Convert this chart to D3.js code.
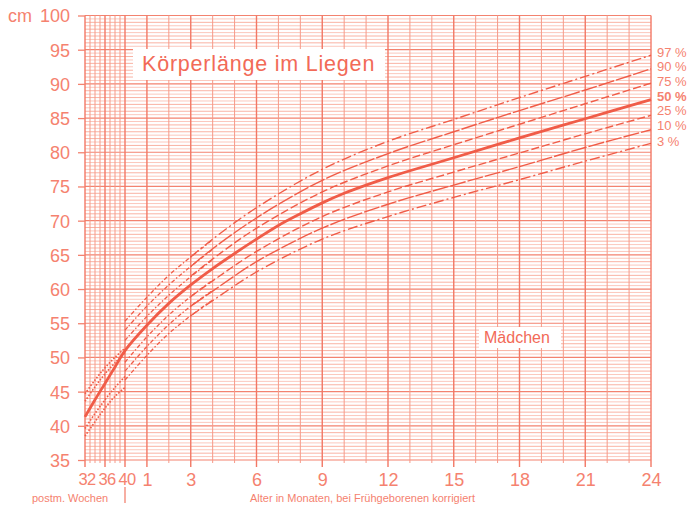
<!DOCTYPE html>
<html><head><meta charset="utf-8">
<script src="https://cdn.jsdelivr.net/npm/d3@7"></script>
<style>html,body{margin:0;padding:0;background:#fff}svg{display:block;font-family:"Liberation Sans",Arial,sans-serif}</style>
</head><body><svg id="c" width="692" height="507"></svg>
<script>
// ---------- data ----------
const yTicks = [35, 40, 45, 50, 55, 60, 65, 70, 75, 80, 85, 90, 95, 100];
const weekTicks = [32, 36, 40];
const monthTicks = [1, 3, 6, 9, 12, 15, 18, 21, 24];
const percentileLabels = ["97 %", "90 %", "75 %", "50 %", "25 %", "10 %", "3 %"];

// 0–24 months percentile curves (cm)
const months = [3, 4, 6, 9, 12, 15, 18, 21, 24];
const p97 = [64.7, 67.3, 71.9, 77.5, 81.6, 84.8, 88.0, 91.1, 94.2];
const p90 = [63.3, 65.9, 70.4, 75.9, 79.8, 83.0, 86.1, 89.1, 92.2];
const p75 = [61.9, 64.4, 68.9, 74.2, 78.0, 81.1, 84.1, 87.1, 90.1];
const p25 = [58.9, 61.2, 65.5, 70.6, 74.2, 77.1, 79.9, 82.7, 85.4];
const p10 = [57.5, 59.7, 64.0, 68.9, 72.4, 75.2, 77.9, 80.7, 83.3];
const p3  = [56.1, 58.3, 62.5, 67.3, 70.6, 73.4, 76.0, 78.7, 81.3];

// median (thick line), preterm weeks then months
const medianWeeks  = [32, 34, 36, 38, 40];
const medianPre    = [41.3, 43.8, 46.2, 48.6, 51.0];
const medianMonths = [0, 1, 2, 3, 4, 5, 6, 7, 8, 9, 10, 11, 12, 13, 15, 18, 21, 24];
const medianPost   = [51.0, 54.7, 57.9, 60.6, 63.0, 65.2, 67.3, 69.3, 71.0, 72.6, 74.0, 75.2, 76.3, 77.3, 79.2, 82.1, 84.9, 87.7];

// early infant curves (0–4 months)
const earlyMonths = [0, 1, 2, 3, 4];
const e97 = [55.3, 58.8, 62.0, 64.7, 67.2];
const e90 = [54.0, 57.5, 60.6, 63.3, 65.8];
const e75 = [52.5, 56.0, 59.1, 61.8, 64.3];
const e25 = [49.3, 53.0, 56.2, 58.9, 61.3];
const e10 = [48.0, 51.6, 54.8, 57.5, 59.8];
const e3  = [46.7, 50.3, 53.5, 56.1, 58.4];

// preterm curves (postmenstrual weeks)
const weeks = [32, 34, 36, 38, 40];
const w97 = [44.7, 46.7, 48.5, 50.0, 51.4];
const w90 = [43.6, 45.7, 47.6, 49.2, 50.7];
const w10 = [39.6, 41.8, 43.8, 45.6, 47.2];
const w3  = [38.5, 40.6, 42.6, 44.3, 45.6];

// ---------- drawing ----------
const svg = d3.select("#c");
const W = 692, H = 507;
svg.append("rect").attr("width", W).attr("height", H).attr("fill", "#fff");

const y = d3.scaleLinear().domain([35, 100]).range([460, 15.5]);
const xw = d3.scaleLinear().domain([32, 40]).range([85, 125]);
const xm = d3.scaleLinear().domain([0, 24]).range([125, 651]);

const textCol = "#f5826f";
const grid = svg.append("g");
// horizontal grid every 0.5 cm
d3.range(35, 100.01, 0.5).forEach(v => {
  const major = v % 5 === 0, cm = v % 1 === 0;
  grid.append("line")
    .attr("x1", xw(32)).attr("x2", xm(24))
    .attr("y1", y(v)).attr("y2", y(v))
    .attr("stroke", major ? "#f3826f" : (cm ? "#f8a998" : "#fbc2b6"))
    .attr("stroke-width", major ? 1.2 : 0.9);
});
// vertical: weeks
d3.range(32, 40.01, 1).forEach(v => {
  const lab = weekTicks.includes(v);
  grid.append("line")
    .attr("x1", xw(v)).attr("x2", xw(v))
    .attr("y1", y(100)).attr("y2", lab ? 467 : 463)
    .attr("stroke", lab ? "#f27865" : "#f69a88")
    .attr("stroke-width", lab ? 1.4 : 1);
});
// vertical: months
d3.range(1, 24.01, 1).forEach(v => {
  const lab = monthTicks.includes(v);
  grid.append("line")
    .attr("x1", xm(v)).attr("x2", xm(v))
    .attr("y1", y(100)).attr("y2", lab ? 467 : 463)
    .attr("stroke", lab ? "#f27865" : "#f69a88")
    .attr("stroke-width", lab ? 1.4 : 1);
});

// y axis
const yAxis = d3.axisLeft(y).tickValues(yTicks).tickSize(7).tickPadding(8).tickFormat(d3.format("d"));
const ya = svg.append("g").attr("transform", `translate(${xw(32)},0)`).call(yAxis);
ya.select(".domain").remove();
ya.selectAll("line").attr("stroke", "#f3826f").attr("stroke-width", 1.3);
ya.selectAll("text").attr("fill", textCol).attr("font-size", 18).attr("font-family", "Liberation Sans, Arial, sans-serif").attr("dy", "0.36em");
svg.append("text").attr("x", 8).attr("y", y(100)).attr("dy", "0.36em").attr("fill", textCol).attr("font-size", 18).text("cm");

// x axes (labels only; lines drawn with grid)
const xwa = svg.append("g").attr("transform", "translate(0,460)")
  .call(d3.axisBottom(xw).tickValues(weekTicks).tickSize(0).tickPadding(13));
const xma = svg.append("g").attr("transform", "translate(0,460)")
  .call(d3.axisBottom(xm).tickValues(monthTicks).tickSize(0).tickPadding(13));
[xwa, xma].forEach(a => {
  a.select(".domain").remove();
  a.selectAll("text").attr("fill", textCol).attr("font-family", "Liberation Sans, Arial, sans-serif");
});
xma.selectAll("text").attr("font-size", 18);
xwa.selectAll("text").attr("font-size", 16.5).attr("letter-spacing", -0.6).attr("dx", 1.5);
svg.append("text").attr("x", 32).attr("y", 502).attr("fill", textCol).attr("font-size", 11).text("postm. Wochen");
svg.append("line").attr("x1", 125).attr("x2", 125).attr("y1", 487).attr("y2", 503).attr("stroke", "#f27865").attr("stroke-width", 1.2);
svg.append("text").attr("x", 250).attr("y", 502).attr("fill", textCol).attr("font-size", 11).text("Alter in Monaten, bei Frühgeborenen korrigiert");

// curves
const curveColor = "#f05c48";
const line = d3.line().curve(d3.curveCatmullRom.alpha(0.5));
function draw(xs, ys, xScale, dash, width) {
  svg.append("path")
    .attr("d", line(xs.map((d, i) => [xScale(d), y(ys[i])])))
    .attr("fill", "none").attr("stroke", curveColor)
    .attr("stroke-width", width).attr("stroke-dasharray", dash)
    .attr("stroke-linecap", "butt");
}
// preterm dotted
[w97, w90, w10, w3].forEach(s => draw(weeks, s, xw, "1.6,1.6", 1.6));
// early dashed
[e97, e90, e75, e25, e10, e3].forEach(s => draw(earlyMonths, s, xm, "4,2,1.5,2", 1.3));
// 0–24 curves
const styles = [
  [p97, "10,3,2,3"], [p90, "16,2"], [p75, "8,3"], [p25, "8,3"], [p10, "16,2"], [p3, "10,3,2,3"]
];
styles.forEach(([s, d]) => draw(months, s, xm, d, 1.4));
// median: join preterm + postterm
const medPts = medianWeeks.map((d, i) => [xw(d), y(medianPre[i])])
  .concat(medianMonths.slice(1).map((d, i) => [xm(d), y(medianPost[i + 1])]));
svg.append("path").attr("d", line(medPts)).attr("fill", "none")
  .attr("stroke", curveColor).attr("stroke-width", 2.8);

// title box
svg.append("rect").attr("x", 133).attr("y", 49).attr("width", 252).attr("height", 31).attr("fill", "#fff");
svg.append("text").attr("x", 142).attr("y", 71).attr("fill", "#f26a57").attr("font-size", 21.5)
  .attr("letter-spacing", 0.8).text("Körperlänge im Liegen");
// Mädchen box
svg.append("rect").attr("x", 479).attr("y", 327).attr("width", 82).attr("height", 21).attr("fill", "#fff");
svg.append("text").attr("x", 484).attr("y", 343).attr("fill", "#f26a57").attr("font-size", 16).text("Mädchen");

// right labels
const labelY = [52.5, 66.5, 81, 96, 110.5, 125, 141.5];
svg.append("g").selectAll("text").data(percentileLabels).join("text")
  .attr("x", 657).attr("y", (d, i) => labelY[i]).attr("dy", "0.36em")
  .attr("fill", textCol).attr("font-size", 13)
  .attr("font-weight", d => d === "50 %" ? "bold" : null)
  .text(d => d);
</script></body></html>
